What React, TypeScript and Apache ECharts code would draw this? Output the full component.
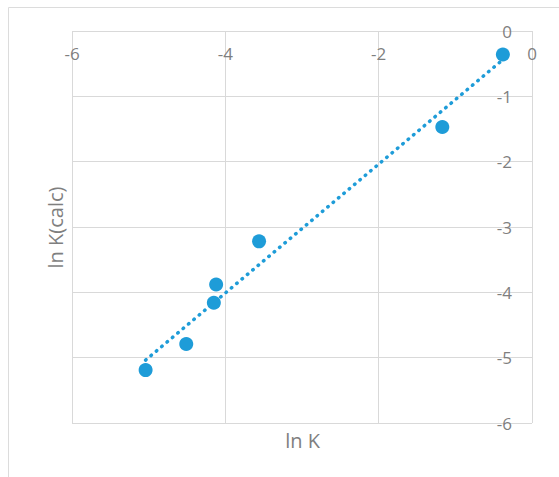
import React, { useEffect, useRef } from "react";
import * as echarts from "echarts";

const lnK: number[] = [-0.38, -1.17, -3.56, -4.12, -4.15, -4.51, -5.04];
const lnKcalc: number[] = [-0.36, -1.47, -3.22, -3.88, -4.16, -4.79, -5.19];
const xTicks: number[] = [-6, -4, -2, 0];
const yTicks: number[] = [-6, -5, -4, -3, -2, -1, 0];
const xTitle = "ln K";
const yTitle = "ln K(calc)";

const BLUE = "#1e9cd8";
const GRID = "#d9d9d9";
const TEXT = "#7f7f7f";
const FONT = "'Open Sans', 'Noto Sans', sans-serif";

function linearFit(xs: number[], ys: number[]) {
  const n = xs.length;
  const mx = xs.reduce((a, b) => a + b, 0) / n;
  const my = ys.reduce((a, b) => a + b, 0) / n;
  let sxy = 0;
  let sxx = 0;
  for (let i = 0; i < n; i++) {
    sxy += (xs[i] - mx) * (ys[i] - my);
    sxx += (xs[i] - mx) * (xs[i] - mx);
  }
  const slope = sxy / sxx;
  return { slope, intercept: my - slope * mx };
}

export default function App() {
  const ref = useRef<HTMLDivElement>(null);
  useEffect(() => {
    if (!ref.current) return;
    const chart = echarts.init(ref.current, undefined, { renderer: "svg" });
    const fit = linearFit(lnK, lnKcalc);
    const xMin = Math.min(...lnK);
    const xMax = Math.max(...lnK);
    const trend = [
      [xMin, fit.slope * xMin + fit.intercept],
      [xMax, fit.slope * xMax + fit.intercept],
    ];
    chart.setOption({
      animation: false,
      backgroundColor: "#ffffff",
      grid: { left: 72, right: 27, top: 31, bottom: 54 },
      xAxis: {
        type: "value",
        position: "top",
        min: xTicks[0],
        max: xTicks[xTicks.length - 1],
        interval: 2,
        axisLine: { show: false },
        axisTick: { show: false },
        axisLabel: {
          inside: true,
          margin: 14,
          color: TEXT,
          fontSize: 17,
          fontFamily: FONT,
        },
        splitLine: { show: true, lineStyle: { color: GRID, width: 1 } },
      },
      yAxis: {
        type: "value",
        position: "right",
        min: yTicks[0],
        max: yTicks[yTicks.length - 1],
        interval: 1,
        axisLine: { show: false },
        axisTick: { show: false },
        axisLabel: {
          inside: true,
          margin: 20,
          color: TEXT,
          fontSize: 17,
          fontFamily: FONT,
        },
        splitLine: { show: true, lineStyle: { color: GRID, width: 1 } },
      },
      graphic: [
        {
          type: "rect",
          shape: { x: 8.5, y: 7.5, width: 700, height: 700 },
          style: { fill: "none", stroke: "#dcdcdc", lineWidth: 1 },
          silent: true,
        },
        {
          type: "text",
          x: 302.5,
          y: 440,
          style: {
            text: xTitle,
            fill: TEXT,
            font: `20px ${FONT}`,
            align: "center",
            verticalAlign: "middle",
          },
        },
        {
          type: "text",
          x: 55,
          y: 227.5,
          rotation: Math.PI / 2,
          style: {
            text: yTitle,
            fill: TEXT,
            font: `20px ${FONT}`,
            align: "center",
            verticalAlign: "middle",
          },
        },
      ],
      series: [
        {
          type: "line",
          data: trend,
          symbol: "none",
          lineStyle: { color: BLUE, width: 3.5, type: [0.5, 6.5], cap: "round" },
          z: 2,
        },
        {
          type: "scatter",
          data: lnK.map((x, i) => [x, lnKcalc[i]]),
          symbol: "circle",
          symbolSize: 14,
          itemStyle: { color: BLUE, opacity: 1 },
          z: 3,
        },
      ],
    });
    return () => chart.dispose();
  }, []);
  return (
    <div
      ref={ref}
      style={{ position: "fixed", left: 0, top: 0, width: 559, height: 477 }}
    />
  );
}
